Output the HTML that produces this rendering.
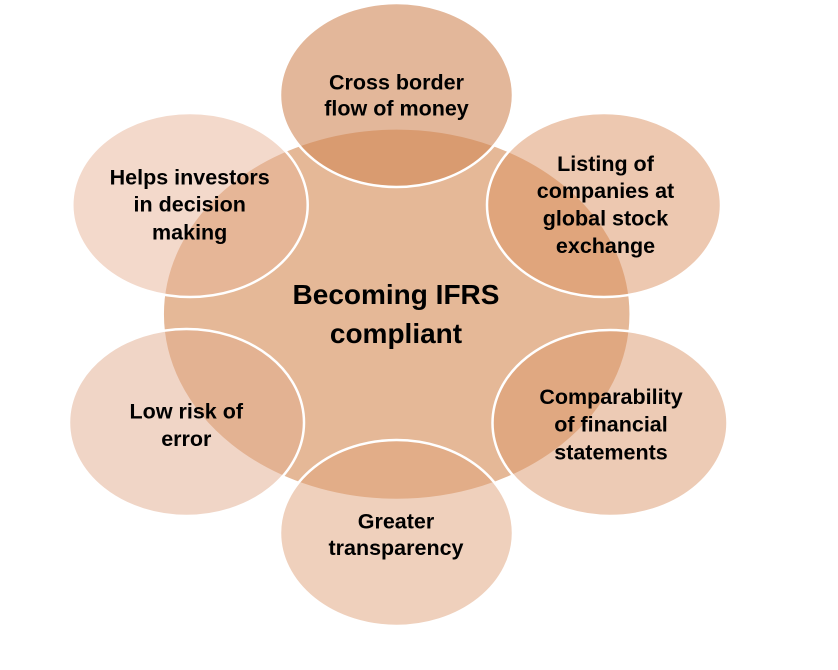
<!DOCTYPE html>
<html>
<head>
<meta charset="utf-8">
<style>
  html, body { margin: 0; padding: 0; background: #ffffff; }
  svg { display: block; }
  text { font-family: "Liberation Sans", Arial, sans-serif; font-weight: bold; fill: #000; }
</style>
</head>
<body>
<svg width="838" height="670" viewBox="0 0 838 670" xmlns="http://www.w3.org/2000/svg">
  <rect x="0" y="0" width="838" height="670" fill="#ffffff"/>

  <!-- central ellipse -->
  <ellipse cx="396.7" cy="314.2" rx="234" ry="185.8" fill="rgb(229,184,151)" stroke="#ffffff" stroke-width="2.5"/>

  <!-- outer ellipses -->
  <ellipse cx="396.5" cy="95" rx="116.5" ry="92" fill="rgb(208,135,87)" fill-opacity="0.6" stroke="#ffffff" stroke-width="2.5"/>
  <ellipse cx="604" cy="205" rx="117" ry="92" fill="rgb(219,145,97)" fill-opacity="0.5" stroke="#ffffff" stroke-width="2.5"/>
  <ellipse cx="610" cy="423" rx="117.5" ry="93" fill="rgb(219,151,107)" fill-opacity="0.5" stroke="#ffffff" stroke-width="2.5"/>
  <ellipse cx="396.5" cy="533" rx="116.5" ry="93" fill="rgb(223,161,121)" fill-opacity="0.5" stroke="#ffffff" stroke-width="2.5"/>
  <ellipse cx="186.5" cy="422.5" rx="117.5" ry="93.5" fill="rgb(225,171,141)" fill-opacity="0.5" stroke="#ffffff" stroke-width="2.5"/>
  <ellipse cx="190" cy="205" rx="117.7" ry="92" fill="rgb(231,179,151)" fill-opacity="0.5" stroke="#ffffff" stroke-width="2.5"/>

  <!-- central text -->
  <text x="396" y="304" font-size="28" text-anchor="middle">Becoming IFRS</text>
  <text x="396" y="343" font-size="28" text-anchor="middle">compliant</text>

  <!-- top -->
  <text x="396.5" y="89.3" font-size="21.5" text-anchor="middle">Cross border</text>
  <text x="396.5" y="115.5" font-size="21.5" text-anchor="middle">flow of money</text>

  <!-- top-right -->
  <text x="605.5" y="171" font-size="21.5" text-anchor="middle">Listing of</text>
  <text x="605.5" y="198" font-size="21.5" text-anchor="middle">companies at</text>
  <text x="605.5" y="225.5" font-size="21.5" text-anchor="middle">global stock</text>
  <text x="605.5" y="253" font-size="21.5" text-anchor="middle">exchange</text>

  <!-- right -->
  <text x="611" y="404" font-size="21.5" text-anchor="middle">Comparability</text>
  <text x="611" y="431.7" font-size="21.5" text-anchor="middle">of financial</text>
  <text x="611" y="459.3" font-size="21.5" text-anchor="middle">statements</text>

  <!-- bottom -->
  <text x="396" y="528.3" font-size="21.5" text-anchor="middle">Greater</text>
  <text x="396" y="555" font-size="21.5" text-anchor="middle">transparency</text>

  <!-- left -->
  <text x="186.3" y="418.3" font-size="21.5" text-anchor="middle">Low risk of</text>
  <text x="186.3" y="446" font-size="21.5" text-anchor="middle">error</text>

  <!-- top-left -->
  <text x="189.7" y="184.3" font-size="21.5" text-anchor="middle">Helps investors</text>
  <text x="189.7" y="211.7" font-size="21.5" text-anchor="middle">in decision</text>
  <text x="189.7" y="239.3" font-size="21.5" text-anchor="middle">making</text>
</svg>
</body>
</html>
